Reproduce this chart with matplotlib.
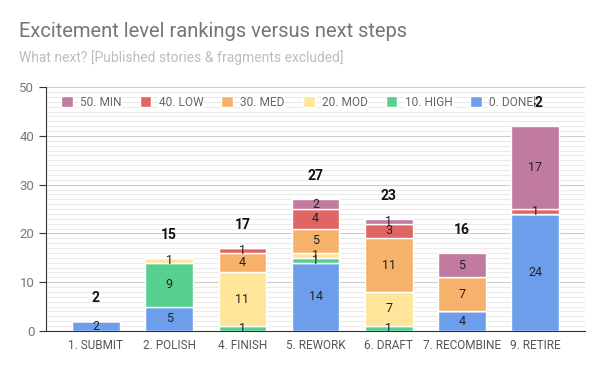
import matplotlib
matplotlib.use('Agg')
import matplotlib.pyplot as plt
import numpy as np
from matplotlib.ticker import MultipleLocator

plt.rcParams['font.family'] = ['Roboto', 'DejaVu Sans']

# categories and stacked series (bottom to top)
categories = ['1. SUBMIT', '2. POLISH', '4. FINISH', '5. REWORK', '6. DRAFT', '7. RECOMBINE', '9. RETIRE']
series_names = ['0. DONE', '10. HIGH', '20. MOD', '30. MED', '40. LOW', '50. MIN']
done = [2, 5, 0, 14, 0, 4, 24]
high = [0, 9, 1, 1, 1, 0, 0]
mod = [0, 1, 11, 1, 7, 0, 0]
med = [0, 0, 4, 5, 11, 7, 0]
low = [0, 0, 1, 4, 3, 0, 1]
mn = [0, 0, 0, 2, 1, 5, 17]
colors = ['#6d9eeb', '#57d08f', '#ffe599', '#f6b26b', '#e06666', '#c27ba0']

series = [done, high, mod, med, low, mn]

fig = plt.figure(figsize=(6, 3.71), dpi=100)
ax = fig.add_axes([0.077, 0.108, 0.898, 0.657])

x = np.arange(len(categories))
bottom = np.zeros(len(categories))
handles = []
for vals, name, c in zip(series, series_names, colors):
    vals = np.array(vals, dtype=float)
    b = ax.bar(x, vals, 0.65, bottom=bottom, color=c, edgecolor='white',
               linewidth=1, label=name, zorder=3)
    handles.append(b)
    for xi, v, bt in zip(x, vals, bottom):
        if v > 0:
            ax.text(xi, bt + v / 2, '%d' % v, ha='center', va='center',
                    fontsize=9, color='#222222', zorder=4)
    bottom += vals

for xi, tot in zip(x, bottom):
    ax.text(xi, tot + 4.7, '%d' % tot, ha='center', va='center',
            fontsize=10, fontweight='bold', color='#111111', zorder=4)

ax.set_xlim(-0.68, len(categories) - 0.32)
ax.set_ylim(0, 50)
ax.set_xticks(x)
ax.set_xticklabels(categories, fontsize=8.5, color='#555555')
ax.yaxis.set_major_locator(MultipleLocator(10))
ax.yaxis.set_minor_locator(MultipleLocator(1))
ax.tick_params(axis='y', which='major', labelsize=9.5, labelcolor='#777777',
               length=5, direction='out', color='#333333')
ax.tick_params(axis='y', which='minor', length=0)
ax.tick_params(axis='x', length=0, pad=6)
ax.grid(axis='y', which='major', color='#cccccc', linewidth=0.8, zorder=0)
ax.grid(axis='y', which='minor', color='#ebebeb', linewidth=0.8, zorder=0)
for s in ['top', 'right']:
    ax.spines[s].set_visible(False)
ax.spines['left'].set_color('#333333')
ax.spines['bottom'].set_color('#333333')

leg = ax.legend(handles[::-1], series_names[::-1], ncol=6, loc='upper left',
                bbox_to_anchor=(0.012, 1.0), frameon=False, fontsize=8.6,
                handlelength=1.0, handleheight=1.0, handletextpad=0.6,
                columnspacing=1.5, borderaxespad=0.3)
leg.set_zorder(6)
for t in leg.get_texts():
    t.set_color('#666666')
    t.set_bbox(dict(facecolor='white', edgecolor='none', pad=0.5))

fig.text(0.032, 0.915, 'Excitement level rankings versus next steps',
         fontsize=14.5, color='#757575', ha='left', va='center')
fig.text(0.032, 0.845, 'What next? [Published stories & fragments excluded]',
         fontsize=10, color='#bdbdbd', ha='left', va='center')

fig.savefig('out.png', dpi=100, facecolor='white')
